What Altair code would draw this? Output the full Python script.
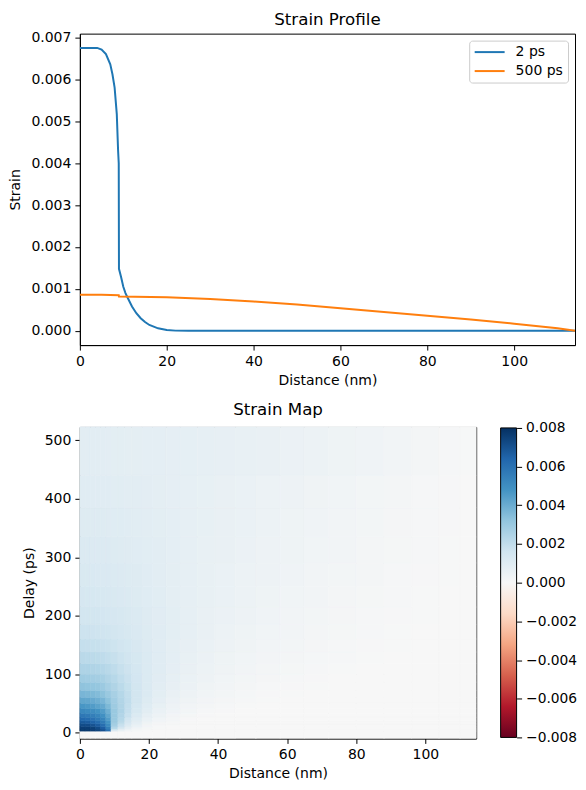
import altair as alt
import pandas as pd

# ---------------- Top panel: strain profiles ----------------
dist_2ps = [0, 2, 4, 5, 6, 7, 7.5, 8, 8.5, 8.8, 8.95, 9.0, 9.5, 10, 10.5, 11, 12, 13,
            14, 15, 16, 17, 18, 20, 22, 25, 114]
strain_2ps = [0.00675, 0.00675, 0.00675, 0.00671, 0.0066, 0.00636, 0.00612, 0.0058,
              0.00517, 0.0043, 0.0040, 0.00148, 0.00128, 0.00105, 0.0009, 0.00079,
              0.00058, 0.00042, 0.0003, 0.00021, 0.00014, 0.0001, 0.00006, 0.00002,
              0.000005, 0.0, 0.0]
dist_500ps = [0, 5, 8.95, 9.0, 20, 30, 40, 50, 60, 70, 80, 90, 100, 110, 114]
strain_500ps = [0.00086, 0.00086, 0.00085, 0.00082, 0.0008, 0.00076, 0.0007, 0.00063,
                0.00054, 0.00045, 0.00036, 0.00027, 0.00017, 0.00006, 0.0]
series_names = ["2 ps", "500 ps"]
series_colors = ["#1f77b4", "#ff7f0e"]

# ---------------- Bottom panel: strain map (values in units of 1e-4) ----------------
distance_edges = [0, 1.5, 3, 4.5, 6, 7.5, 9, 11, 13, 15, 18, 21, 25, 29, 34, 39, 45, 51,
                  58, 65, 72, 80, 88, 96, 104, 110, 114.7]
delay_edges = [-10, 2.5, 6, 10, 15, 20, 26, 33, 41, 50, 60, 72, 86, 100, 118, 138, 160,
               185, 215, 250, 290, 335, 385, 440, 523]
strain_map_e4 = [
    [0, 0, 0, 0, 0, 0, 0, 0, 0, 0, 0, 0, 0, 0, 0, 0, 0, 0, 0, 0, 0, 0, 0, 0, 0, 0],
    [77, 77, 76, 74, 70, 60, 12, 6, 3, 1.2, 0.4, 0.1, 0, 0, 0, 0, 0, 0, 0, 0, 0, 0, 0, 0, 0, 0],
    [76, 76, 75, 72, 66, 55, 22, 13, 7, 3, 1.2, 0.4, 0.1, 0, 0, 0, 0, 0, 0, 0, 0, 0, 0, 0, 0, 0],
    [72, 72, 70, 67, 61, 51, 27, 18, 11, 5.5, 2.3, 0.9, 0.3, 0.1, 0, 0, 0, 0, 0, 0, 0, 0, 0, 0, 0, 0],
    [68, 67, 65, 62, 57, 48, 29, 21, 14, 8, 4, 1.8, 0.7, 0.25, 0.05, 0, 0, 0, 0, 0, 0, 0, 0, 0, 0, 0],
    [63, 62, 60, 57, 53, 45, 30, 23, 16, 10, 5.5, 3, 1.5, 0.6, 0.2, 0.05, 0, 0, 0, 0, 0, 0, 0, 0, 0, 0],
    [58, 57, 55, 53, 49, 42, 30, 24, 18, 12, 7.2, 4.2, 2.3, 1.2, 0.5, 0.2, 0.05, 0, 0, 0, 0, 0, 0, 0, 0, 0],
    [52, 51, 50, 48, 45, 39, 30, 25, 19, 13.5, 8.8, 5.5, 3.3, 1.9, 1, 0.45, 0.15, 0.05, 0, 0, 0, 0, 0, 0, 0, 0],
    [47, 46, 45, 43, 41, 36, 29, 24.5, 19.5, 14.5, 10, 6.6, 4.3, 2.7, 1.6, 0.9, 0.4, 0.15, 0.05, 0, 0, 0, 0, 0, 0, 0],
    [42, 41.5, 40.5, 39, 37, 33, 28, 24, 20, 15, 11, 7.6, 5.2, 3.5, 2.3, 1.4, 0.75, 0.35, 0.12, 0.04, 0, 0, 0, 0, 0, 0],
    [37, 36.5, 36, 35, 33, 30, 26.5, 23, 19.5, 15.3, 11.6, 8.4, 6, 4.2, 2.9, 1.9, 1.1, 0.6, 0.28, 0.1, 0.03, 0, 0, 0, 0, 0],
    [32.5, 32, 31.5, 31, 29.5, 27, 24.5, 21.5, 18.7, 15.2, 11.9, 9, 6.7, 4.9, 3.5, 2.4, 1.6, 0.95, 0.5, 0.22, 0.08, 0.02, 0, 0, 0, 0],
    [28.5, 28, 27.8, 27.3, 26.3, 24.5, 22.5, 20, 17.8, 14.8, 12, 9.4, 7.2, 5.5, 4.1, 3, 2.1, 1.4, 0.85, 0.45, 0.2, 0.07, 0.02, 0, 0, 0],
    [25, 24.8, 24.5, 24.1, 23.4, 22, 20.5, 18.6, 16.8, 14.3, 11.9, 9.6, 7.6, 6, 4.6, 3.5, 2.6, 1.85, 1.25, 0.75, 0.4, 0.17, 0.06, 0.02, 0, 0],
    [21.8, 21.6, 21.4, 21.1, 20.6, 19.6, 18.5, 17.1, 15.7, 13.7, 11.7, 9.7, 8, 6.4, 5.1, 4, 3.1, 2.3, 1.65, 1.1, 0.65, 0.35, 0.16, 0.06, 0.02, 0],
    [19, 18.9, 18.7, 18.5, 18.1, 17.4, 16.7, 15.7, 14.6, 13, 11.4, 9.7, 8.2, 6.8, 5.5, 4.4, 3.5, 2.7, 2, 1.4, 0.9, 0.52, 0.27, 0.12, 0.04, 0.01],
    [17, 16.9, 16.8, 16.6, 16.3, 15.8, 15.2, 14.5, 13.6, 12.4, 11, 9.6, 8.3, 7, 5.8, 4.8, 3.9, 3.1, 2.35, 1.7, 1.15, 0.72, 0.4, 0.2, 0.08, 0.02],
    [15.3, 15.2, 15.1, 15, 14.8, 14.4, 13.9, 13.3, 12.7, 11.7, 10.6, 9.4, 8.3, 7.1, 6.1, 5.1, 4.2, 3.4, 2.7, 2, 1.42, 0.95, 0.57, 0.3, 0.13, 0.04],
    [13.8, 13.7, 13.7, 13.6, 13.4, 13.1, 12.7, 12.3, 11.8, 11, 10.1, 9.2, 8.2, 7.2, 6.3, 5.4, 4.6, 3.8, 3, 2.35, 1.75, 1.2, 0.78, 0.43, 0.2, 0.06],
    [12.6, 12.6, 12.5, 12.4, 12.3, 12.1, 11.7, 11.4, 11, 10.4, 9.7, 8.9, 8.1, 7.3, 6.4, 5.6, 4.8, 4.1, 3.35, 2.7, 2.05, 1.5, 1, 0.58, 0.28, 0.09],
    [11.6, 11.6, 11.5, 11.5, 11.4, 11.2, 10.8, 10.6, 10.3, 9.8, 9.3, 8.7, 8, 7.3, 6.5, 5.8, 5.1, 4.4, 3.65, 3, 2.35, 1.75, 1.22, 0.75, 0.37, 0.12],
    [10.6, 10.6, 10.6, 10.5, 10.4, 10.3, 10, 9.9, 9.7, 9.3, 8.9, 8.4, 7.9, 7.2, 6.6, 5.9, 5.3, 4.6, 3.9, 3.25, 2.6, 2, 1.45, 0.92, 0.47, 0.16],
    [9.8, 9.8, 9.7, 9.7, 9.6, 9.5, 9.2, 9.1, 9, 8.8, 8.5, 8.1, 7.7, 7.2, 6.6, 6, 5.4, 4.8, 4.1, 3.5, 2.85, 2.2, 1.62, 1.05, 0.55, 0.19],
    [8.9, 8.9, 8.85, 8.8, 8.75, 8.6, 8.3, 8.3, 8.2, 8.1, 8, 7.9, 7.7, 7.5, 7.2, 6.9, 6.45, 5.95, 5.25, 4.6, 3.95, 3.2, 2.45, 1.7, 0.95, 0.3],
]
colorbar_ticks = [-0.008, -0.006, -0.004, -0.002, 0.0, 0.002, 0.004, 0.006, 0.008]
rdbu_stops = [-0.008, -0.0064, -0.0048, -0.0032, -0.0016, 0.0, 0.0016, 0.0032, 0.0048, 0.0064, 0.008]
rdbu_colors = ["#67001f", "#b2182b", "#d6604d", "#f4a582", "#fddbc7", "#f7f7f7",
               "#d1e5f0", "#92c5de", "#4393c3", "#2166ac", "#053061"]

# ---------------- Build tables ----------------
rows = []
for d, s in zip(dist_2ps, strain_2ps):
    rows.append({"distance": d, "strain": s, "series": series_names[0]})
for d, s in zip(dist_500ps, strain_500ps):
    rows.append({"distance": d, "strain": s, "series": series_names[1]})
profile_df = pd.DataFrame(rows)

cells = []
for i in range(len(delay_edges) - 1):
    for j in range(len(distance_edges) - 1):
        cells.append({
            "x0": distance_edges[j], "x1": distance_edges[j + 1],
            "t0": delay_edges[i], "t1": delay_edges[i + 1],
            "strain": strain_map_e4[i][j] * 1e-4,
        })
map_df = pd.DataFrame(cells)

cmin, cmax = rdbu_stops[0], rdbu_stops[-1]
cbar_df = pd.DataFrame({"lo": [cmin], "hi": [cmax]})
cbar_gradient = alt.Gradient(
    gradient="linear", x1=0, y1=1, x2=0, y2=0,
    stops=[alt.GradientStop(color=c, offset=(v - cmin) / (cmax - cmin))
           for v, c in zip(rdbu_stops, rdbu_colors)],
)

FONT = "DejaVu Sans"

top = alt.Chart(profile_df).mark_line(strokeWidth=2, clip=True).encode(
    x=alt.X("distance:Q", title="Distance (nm)",
            scale=alt.Scale(domain=[0, 114], nice=False, zero=False),
            axis=alt.Axis(values=[0, 20, 40, 60, 80, 100])),
    y=alt.Y("strain:Q", title="Strain",
            scale=alt.Scale(domain=[-0.00034, 0.00709], nice=False, zero=False),
            axis=alt.Axis(values=[0, 0.001, 0.002, 0.003, 0.004, 0.005, 0.006, 0.007],
                          format=".3f")),
    color=alt.Color("series:N",
                    scale=alt.Scale(domain=series_names, range=series_colors),
                    legend=alt.Legend(orient="top-right", title=None, offset=7, padding=4.5,
                                      fillColor="white", strokeColor="#cccccc",
                                      cornerRadius=3, symbolType="M-1.2,0H4.8",
                                      symbolSize=100, symbolStrokeWidth=2,
                                      labelFontSize=14, rowPadding=5, labelOffset=28,
                                      labelFont=FONT, labelColor="black")),
    detail="series:N",
).properties(
    width=496, height=312,
    title=alt.Title("Strain Profile", fontSize=16.7, font=FONT, fontWeight="normal",
                    anchor="middle", color="black", offset=2),
)

cscale = alt.Scale(domain=rdbu_stops, range=rdbu_colors, interpolate="rgb")
heat = alt.Chart(map_df).mark_rect(strokeWidth=0.6).encode(
    x=alt.X("x0:Q", title="Distance (nm)",
            scale=alt.Scale(domain=[0, 114.7], nice=False, zero=False),
            axis=alt.Axis(values=[0, 20, 40, 60, 80, 100])),
    x2="x1:Q",
    y=alt.Y("t0:Q", title="Delay (ps)",
            scale=alt.Scale(domain=[-10, 523], nice=False, zero=False),
            axis=alt.Axis(values=[0, 100, 200, 300, 400, 500])),
    y2="t1:Q",
    color=alt.Color("strain:Q", scale=cscale, legend=None),
    stroke=alt.Color("strain:Q", scale=cscale, legend=None),
)

cbar = alt.Chart(cbar_df).mark_rect(fill=cbar_gradient, stroke="black", strokeWidth=1).encode(
    x=alt.value(421.5), x2=alt.value(437.5),
    y=alt.Y("lo:Q", title=None,
            scale=alt.Scale(domain=[-0.00805, 0.00805], nice=False, zero=False),
            axis=alt.Axis(orient="right", offset=40.5, values=colorbar_ticks, format=".3f",
                          domain=False, labelFontSize=13.8)),
    y2="hi:Q",
)

bottom = alt.layer(heat, cbar).resolve_scale(y="independent").properties(
    width=397, height=312,
    title=alt.Title("Strain Map", fontSize=16.7, font=FONT, fontWeight="normal",
                    anchor="middle", color="black", offset=2),
)

chart = alt.vconcat(top, bottom, spacing=13).properties(
    padding={"left": 0, "top": 2, "right": 0, "bottom": 0}
).configure_view(
    stroke="black", strokeWidth=1
).configure_axis(
    grid=False, labelFont=FONT, titleFont=FONT, labelFontSize=14, titleFontSize=14,
    labelColor="black", titleColor="black", titleFontWeight="normal",
    tickColor="black", domainColor="black", tickSize=5, labelPadding=4,
    titlePadding=5, domainWidth=1, tickWidth=1, labelFlush=False
).configure_axisY(
    titlePadding=8
)

chart.save("out.html", embed_options={"renderer": "svg", "actions": False})
